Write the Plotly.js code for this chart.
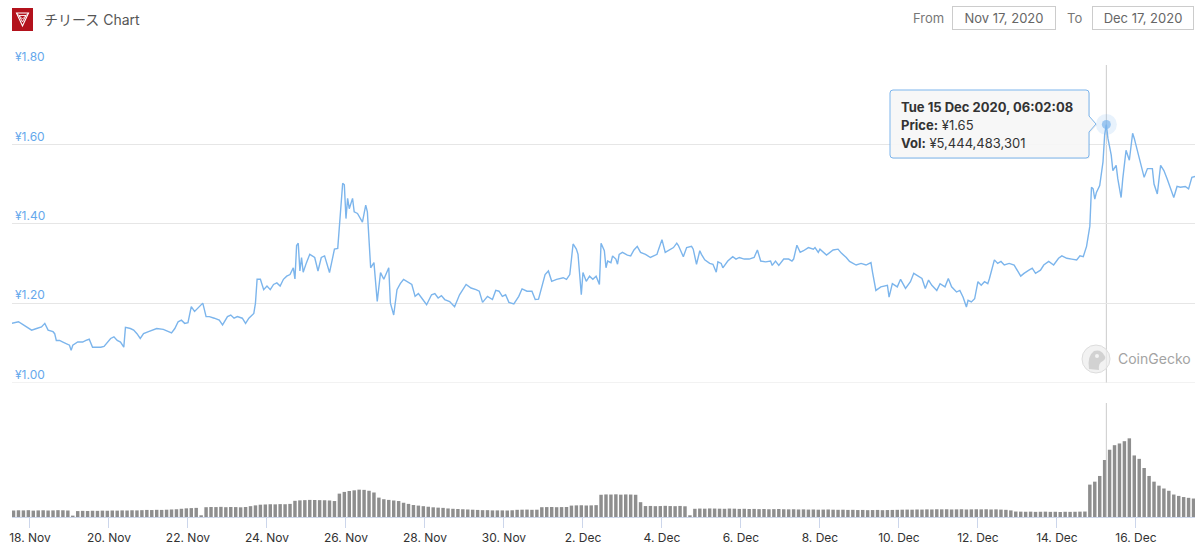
<!DOCTYPE html>
<html><head><meta charset="utf-8">
<script src="https://cdn.plot.ly/plotly-3.0.1.min.js"></script>
<style>html,body{margin:0;padding:0;background:#fff;}#chart{width:1200px;height:545px;}</style>
</head><body><div id="chart"></div>
<script>
const FONT = "Inter, 'Noto Sans CJK JP', 'Liberation Sans', sans-serif";

// ---------- data ----------
const chartTitle = 'チリース Chart';
const fromLabel = 'From', toLabel = 'To';
const fromDate = 'Nov 17, 2020', toDate = 'Dec 17, 2020';
const seriesStart = Date.UTC(2020, 10, 17, 12, 0, 0); // hours are counted from here
const xRange = ['2020-11-17 13:04', '2020-12-17 11:54'];
const priceTicks = [1.0, 1.2, 1.4, 1.6, 1.8];
const priceTickText = ['¥1.00', '¥1.20', '¥1.40', '¥1.60', '¥1.80'];
const dateTicks = ['2020-11-18','2020-11-20','2020-11-22','2020-11-24','2020-11-26','2020-11-28','2020-11-30','2020-12-02','2020-12-04','2020-12-06','2020-12-08','2020-12-10','2020-12-12','2020-12-14','2020-12-16'];
const dateTickText = ['18. Nov','20. Nov','22. Nov','24. Nov','26. Nov','28. Nov','30. Nov','2. Dec','4. Dec','6. Dec','8. Dec','10. Dec','12. Dec','14. Dec','16. Dec'];

// price (JPY) — hours since 17 Nov 2020 12:00
const priceHour = [1,5,8,10,13,16,19,21,23,26,27,28,30,32,34,36,37,38,41,44,46,48,50,55,57,59,61,63,65,67,69,70,73,75,77,79,81,84,87,89,93,96,98,100,102,104,106,108,110,112,114,117,119,121,124,127,129,132,134,136,138,141,143,145,148,149,150,152,154,156,158,160,162,164,166,168,170,172,173,174,175,176,177,178,180,182,185,187,189,191,194,197,199,200,202,203,204,205,206,208,209,211,214,216,217,219,221,223,225,227,230,231,233,235,237,239,242,244,246,248,250,253,256,258,260,262,264,267,270,273,277,280,283,285,287,290,293,295,297,299,301,303,306,309,311,314,317,319,321,323,325,327,329,332,336,338,340,342,344,345,347,348,350,352,354,356,358,359,361,362,363,365,366,368,369,370,372,375,377,379,381,383,386,389,391,393,394,396,398,401,403,405,406,409,411,414,415,417,419,420,422,425,427,429,430,432,433,436,439,441,443,446,449,452,454,456,459,462,463,465,467,470,473,475,476,478,480,482,485,488,489,491,492,496,498,500,503,505,508,510,514,517,520,523,524,526,529,533,534,536,539,541,544,547,549,552,554,556,558,560,563,565,568,570,572,575,577,579,581,582,584,586,588,590,592,594,595,598,600,602,604,607,610,614,616,619,621,623,626,628,631,634,637,639,642,645,648,650,652,654,656,657,658,659,660,662,664,665,666,667,669,670,672,673,675,676,678,680,682,683,685,688,689,691,694,695,697,699,701,703,705,707,709,711,714,716,718,721];
const priceValue = [1.149,1.153,1.145,1.140,1.132,1.136,1.140,1.149,1.132,1.128,1.123,1.106,1.106,1.102,1.098,1.094,1.081,1.094,1.102,1.102,1.106,1.109,1.089,1.089,1.091,1.102,1.111,1.115,1.106,1.102,1.089,1.139,1.136,1.132,1.123,1.111,1.123,1.128,1.132,1.136,1.134,1.128,1.125,1.136,1.153,1.157,1.149,1.151,1.191,1.179,1.187,1.200,1.166,1.166,1.162,1.157,1.145,1.166,1.170,1.162,1.166,1.162,1.149,1.162,1.174,1.200,1.260,1.260,1.234,1.243,1.234,1.247,1.251,1.243,1.260,1.268,1.272,1.289,1.261,1.345,1.351,1.281,1.315,1.278,1.302,1.323,1.315,1.281,1.315,1.319,1.277,1.336,1.338,1.396,1.502,1.498,1.413,1.464,1.438,1.464,1.430,1.426,1.404,1.447,1.430,1.289,1.302,1.204,1.277,1.260,1.289,1.200,1.170,1.234,1.249,1.260,1.251,1.247,1.217,1.224,1.213,1.196,1.221,1.224,1.213,1.219,1.209,1.204,1.191,1.221,1.247,1.238,1.234,1.230,1.202,1.217,1.209,1.232,1.230,1.217,1.221,1.202,1.198,1.217,1.236,1.230,1.230,1.209,1.210,1.243,1.272,1.281,1.255,1.260,1.264,1.260,1.272,1.349,1.336,1.323,1.221,1.277,1.255,1.268,1.260,1.268,1.247,1.351,1.332,1.289,1.306,1.302,1.319,1.311,1.298,1.323,1.328,1.321,1.319,1.334,1.343,1.328,1.323,1.315,1.319,1.323,1.336,1.360,1.328,1.336,1.340,1.351,1.345,1.317,1.340,1.343,1.336,1.298,1.332,1.323,1.309,1.300,1.298,1.278,1.304,1.300,1.289,1.306,1.317,1.311,1.315,1.311,1.311,1.315,1.334,1.306,1.304,1.306,1.295,1.306,1.295,1.311,1.311,1.306,1.311,1.346,1.328,1.332,1.340,1.336,1.340,1.328,1.336,1.321,1.328,1.334,1.336,1.326,1.315,1.305,1.296,1.300,1.296,1.302,1.277,1.232,1.241,1.245,1.215,1.249,1.241,1.260,1.237,1.254,1.275,1.266,1.262,1.237,1.258,1.245,1.232,1.249,1.241,1.262,1.241,1.228,1.232,1.215,1.190,1.207,1.203,1.211,1.254,1.245,1.254,1.249,1.262,1.309,1.300,1.305,1.296,1.300,1.296,1.268,1.275,1.283,1.288,1.275,1.283,1.296,1.305,1.296,1.313,1.319,1.313,1.311,1.309,1.319,1.317,1.343,1.394,1.492,1.488,1.462,1.479,1.496,1.556,1.624,1.650,1.615,1.573,1.534,1.547,1.513,1.466,1.513,1.585,1.560,1.628,1.615,1.581,1.534,1.517,1.539,1.539,1.500,1.475,1.547,1.534,1.513,1.492,1.466,1.494,1.492,1.494,1.488,1.517,1.520];

// volume (billion JPY), one bar every 3 hours starting at hour 2
const volStartHour = 2, volStepHour = 3;
const volumeBillion = [0.57,0.59,0.58,0.60,0.56,0.58,0.59,0.57,0.58,0.60,0.59,0.57,
0.12,
0.52,0.54,0.53,0.55,0.54,0.56,0.55,0.57,0.56,0.58,0.57,0.59,0.58,
0.60,0.62,0.61,0.63,0.62,0.64,0.66,0.68,0.72,0.76,
0.78,0.80,0.15,
0.86,0.88,0.87,0.89,0.86,0.88,0.87,0.85,0.88,
0.95,1.02,
1.08,1.10,1.12,1.11,1.13,1.12,1.15,
1.42,1.46,1.48,1.50,1.49,1.48,1.47,1.45,1.40,
2.05,2.20,2.28,2.34,2.40,2.38,2.30,2.15,
1.70,1.56,1.50,1.45,1.40,
1.25,1.15,1.05,1.00,0.95,0.90,0.85,0.82,0.80,0.75,0.72,0.70,0.68,0.66,0.64,0.62,0.60,0.60,0.58,0.58,
0.58,0.57,0.59,
0.63,0.64,0.65,0.63,0.64,
0.86,0.87,0.88,0.86,0.87,0.88,
1.00,1.02,1.03,1.01,1.02,1.04,
1.95,1.98,1.97,1.99,1.96,1.98,1.97,1.95,
1.30,
0.96,0.97,0.95,0.96,0.98,0.96,0.95,0.97,0.94,
0.15,
0.72,0.74,0.73,0.75,0.74,0.73,0.72,0.74,0.73,0.71,
0.72,0.70,0.71,0.69,0.70,0.68,0.69,0.70,0.68,0.67,
0.68,0.66,0.67,0.65,0.66,0.64,0.65,0.66,0.64,0.63,
0.64,0.62,0.63,0.61,0.62,0.60,0.61,0.62,0.60,0.61,
0.62,0.63,0.64,0.65,0.64,0.66,0.65,0.67,0.66,0.68,
0.67,0.68,0.66,0.67,0.68,0.66,0.67,0.68,
0.67,0.68,0.66,0.67,0.65,0.63,0.58,
0.48,0.47,0.46,0.47,0.45,0.46,0.47,0.45,0.46,0.44,0.46,0.45,0.46,0.47,0.48,
2.84,3.10,3.60,5.00,5.90,6.30,6.45,6.65,6.90,5.40,5.10,4.30,3.60,3.10,2.75,2.50,2.30,1.97,1.85,1.75,1.68,1.62];

// hovered point shown in the tooltip
const hoverTime = '2020-12-15 06:02:08';
const hoverLabel = 'Tue 15 Dec 2020, 06:02:08';
const hoverPrice = 1.65;
const hoverVolume = 5444483301;
const volumeAxisMax = 10e9;

// ---------- build ----------
function hourToStr(h){ return new Date(seriesStart + h*3600e3).toISOString().replace('T',' ').slice(0,19); }
const priceX = priceHour.map(hourToStr);
const volX = volumeBillion.map((v,i)=>hourToStr(volStartHour + i*volStepHour));
const volY = volumeBillion.map(v=>v*1e9);

const L = 12, R = 5, T = 65, B = 28, W = 1200, H = 545;
const PW = W - L - R, PH = H - T - B;
const px = x => (x - L)/PW;
const py = y => (H - B - y)/PH;
const priceDomain = [py(382.5), 1];
const volDomain = [0, py(403)];

const traces = [
  {type:'bar', x:volX, y:volY, xaxis:'x', yaxis:'y2',
   marker:{color:'#8e8e8e', line:{width:0}},
   hoverinfo:'skip'},
  {type:'scatter', mode:'lines', x:priceX, y:priceValue, xaxis:'x', yaxis:'y',
   line:{color:'#7cb5ec', width:1.4}, hoverinfo:'skip'},
  {type:'scatter', mode:'markers', x:[hoverTime, hoverTime], y:[hoverPrice, hoverPrice],
   xaxis:'x', yaxis:'y',
   marker:{size:[21, 9], color:['rgba(124,181,236,0.25)', '#7cb5ec'], line:{width:0}},
   hoverinfo:'skip'}
];

function pix(extra){ return Object.assign({xref:'paper', yref:'paper', xsizemode:'pixel', ysizemode:'pixel', xanchor:0, yanchor:1}, extra); }
const ax = x => x - L;
const ay = y => T - y;

const tipL = ax(890), tipR = ax(1089), tipT = ay(90), tipB = ay(158), rr = 3;
const tipPath = `M ${tipL+rr},${tipT} L ${tipR-rr},${tipT} Q ${tipR},${tipT} ${tipR},${tipT-rr} L ${tipR},${ay(116)} L ${ax(1096)},${ay(124)} L ${tipR},${ay(132)} L ${tipR},${tipB+rr} Q ${tipR},${tipB} ${tipR-rr},${tipB} L ${tipL+rr},${tipB} Q ${tipL},${tipB} ${tipL},${tipB+rr} L ${tipL},${tipT-rr} Q ${tipL},${tipT} ${tipL+rr},${tipT} Z`;

const shapes = [
  {type:'line', xref:'paper', yref:'y', x0:0, x1:1, y0:1.0, y1:1.0, line:{color:'#e6e6e6', width:1}, layer:'between'},
  {type:'line', xref:'x', yref:'paper', x0:hoverTime, x1:hoverTime, y0:priceDomain[0], y1:1, line:{color:'#cccccc', width:1}, layer:'between'},
  {type:'line', xref:'x', yref:'paper', x0:hoverTime, x1:hoverTime, y0:0, y1:volDomain[1], line:{color:'#cccccc', width:1}, layer:'above'},
  pix({type:'path', path:tipPath.replace(/(-?\d+(\.\d+)?),(-?\d+(\.\d+)?)/g, (m,a,b,c)=>`${(+a)+1},${(+c)-1}`), fillcolor:'rgba(0,0,0,0.06)', line:{width:0}, layer:'above'}),
  pix({type:'path', path:tipPath, fillcolor:'rgba(247,247,247,0.92)', line:{color:'#7cb5ec', width:1}, layer:'above'}),
  pix({type:'rect', x0:ax(12), x1:ax(33), y0:ay(31), y1:ay(8), fillcolor:'#b3121c', line:{width:0}, layer:'above'}),
  pix({type:'path', path:`M ${ax(16.5)},${ay(13)} L ${ax(28.5)},${ay(13)} L ${ax(22.5)},${ay(26)} Z`, line:{color:'#ffffff', width:1.1}, fillcolor:'rgba(0,0,0,0)', layer:'above'}),
  pix({type:'path', path:`M ${ax(19)},${ay(15.5)} L ${ax(26)},${ay(15.5)} L ${ax(22.5)},${ay(22)} Z`, line:{color:'#ffffff', width:0.9}, fillcolor:'rgba(0,0,0,0)', layer:'above'}),
  pix({type:'path', path:`M ${ax(16.5)},${ay(13)} L ${ax(22.5)},${ay(19)} L ${ax(28.5)},${ay(13)}`, line:{color:'#ffffff', width:0.8}, fillcolor:'rgba(0,0,0,0)', layer:'above'}),
  pix({type:'circle', x0:ax(1082), x1:ax(1110), y0:ay(373), y1:ay(345), fillcolor:'rgba(236,236,236,0.7)', line:{color:'#dddddd', width:1}, layer:'above'}),
  pix({type:'path', path:`M ${ax(1089)},${ay(369)} Q ${ax(1087)},${ay(356)} ${ax(1094)},${ay(351)} Q ${ax(1101)},${ay(349)} ${ax(1104)},${ay(355)} Q ${ax(1107)},${ay(358)} ${ax(1103)},${ay(361)} Q ${ax(1098)},${ay(363)} ${ax(1099)},${ay(370)} Z`, fillcolor:'rgba(205,205,205,0.85)', line:{width:0}, layer:'above'}),
  pix({type:'circle', x0:ax(1095), x1:ax(1099), y0:ay(358), y1:ay(354), fillcolor:'#f4f4f4', line:{width:0}, layer:'above'})
];

const txt = (x, y, text, opts) => Object.assign({xref:'paper', yref:'paper', x:px(x), y:py(y), text:text, showarrow:false, xanchor:'left', yanchor:'middle', font:{family:FONT, size:13, color:'#333333'}}, opts||{});

const annotations = [
  txt(42, 19.5, chartTitle, {font:{family:FONT, size:14, color:'#555555'}}),
  txt(928, 18.5, fromLabel, {xanchor:'center', font:{family:FONT, size:13, color:'#777777'}}),
  txt(1074, 18.5, toLabel, {xanchor:'center', font:{family:FONT, size:13, color:'#777777'}}),
  txt(1003.5, 18.5, fromDate, {xanchor:'center', width:102, height:22, borderpad:0, bordercolor:'#cccccc', borderwidth:1, bgcolor:'#ffffff', font:{family:FONT, size:13, color:'#666666'}}),
  txt(1142.5, 18.5, toDate, {xanchor:'center', width:100, height:22, borderpad:0, bordercolor:'#cccccc', borderwidth:1, bgcolor:'#ffffff', font:{family:FONT, size:13, color:'#666666'}}),
  txt(899, 107, '<b>' + hoverLabel + '</b>'),
  txt(899, 125, '<b>Price:</b> ¥' + hoverPrice.toFixed(2)),
  txt(899, 143, '<b>Vol:</b> ¥' + hoverVolume.toLocaleString('en-US')),
  txt(1116, 358.5, 'CoinGecko', {font:{family:FONT, size:14, color:'#a3a3a3'}})
];

const layout = {
  width:W, height:H, margin:{l:L, r:R, t:T, b:B, pad:0},
  paper_bgcolor:'#ffffff', plot_bgcolor:'rgba(0,0,0,0)',
  showlegend:false, bargap:0.3, hovermode:false,
  font:{family:FONT, size:12, color:'#333333'},
  xaxis:{type:'date', range:xRange, anchor:'y2', showgrid:false, zeroline:false,
    showline:true, linecolor:'#ccd6eb', linewidth:1,
    ticks:'outside', ticklen:10, tickcolor:'#ccd6eb', tickwidth:1,
    tickmode:'array', tickvals:dateTicks, ticktext:dateTickText, ticklabeloverflow:'allow',
    tickfont:{family:FONT, size:12, color:'#333333'}},
  yaxis:{domain:priceDomain, range:[1.0, 1.8], tickmode:'array', tickvals:priceTicks, ticktext:priceTickText,
    showgrid:true, gridcolor:'#e6e6e6', gridwidth:1, zeroline:false, showline:false, ticks:'',
    ticklabelposition:'inside', ticklabelstandoff:0, ticklabelshift:-8, ticklabeloverflow:'allow',
    tickfont:{family:FONT, size:12, color:'#66a8ec'}},
  yaxis2:{domain:volDomain, range:[0, volumeAxisMax], showgrid:false, zeroline:false,
    showticklabels:false, ticks:'', showline:false},
  shapes:shapes, annotations:annotations
};

Plotly.newPlot('chart', traces, layout, {staticPlot:true, displayModeBar:false});
</script>
</body></html>
